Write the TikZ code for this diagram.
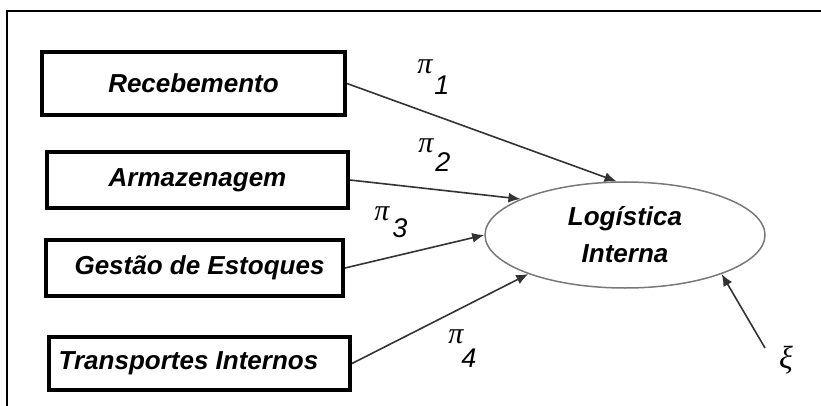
\documentclass[tikz,border=0pt]{standalone}
\usepackage{fontspec}
\setmainfont{Liberation Sans}
\newfontfamily\greekfont{Liberation Serif}
\definecolor{edgegray}{rgb}{0.2,0.2,0.2}
\definecolor{ovalgray}{rgb}{0.47,0.47,0.47}
\usetikzlibrary{arrows.meta}
\usetikzlibrary{shapes.geometric}
\usetikzlibrary{positioning}

\tikzset{
  factor/.style={draw, line width=4pt, inner sep=0pt, font=\bfseries\itshape\fontsize{26}{30}\selectfont},
  latent/.style={ellipse, draw=ovalgray, line width=1.5pt, inner sep=0pt, minimum width=280pt, minimum height=106pt, align=center, font=\bfseries\itshape\fontsize{26}{37}\selectfont},
  path/.style={draw=edgegray, line width=1.6pt, -{Latex[length=12pt,width=10pt]}},
  pisym/.style={inner sep=0pt, font=\greekfont\itshape\fontsize{30}{30}\selectfont},
  pidig/.style={inner sep=0pt, font=\itshape\fontsize{27}{27}\selectfont}
}

\begin{document}
\begin{tikzpicture}[x=1pt, y=-1pt]

\useasboundingbox (0,0) rectangle (821,406);
\draw[line width=1.8pt] (7,406) |- (821,11);

% indicadores
\node[factor, minimum width=303pt, minimum height=63pt] (rec) at (193.5,83.5) {Recebemento};
\node[factor, minimum width=301pt, minimum height=56pt] (arm) at (197.5,180) {Armazenagem};
\node[factor, minimum width=297pt, minimum height=56pt] (ges) at (194.5,268) {\hspace*{10pt}Gestão de Estoques};
\node[factor, minimum width=301pt, minimum height=53pt] (tra) at (199.5,363.5) {Transportes Internos\hspace*{22pt}};

% construto
\node[latent] (log) at (625,235) {Logística\\Interna};

% caminhos
\draw[path] (rec.east) -- (log.99);
\draw[path] (arm.east) -- (log.161);
\draw[path] (ges.east) -- (log.180);
\draw[path] (tra.east) -- (log.202);

% coeficientes
\node[pisym] (pi1) at (425,67) {π};
\node[pidig] (n1) at (442,85) {1};
\node[pisym] (pi2) at (426,146) {π};
\node[pidig] (n2) at (443,162) {2};
\node[pisym] (pi3) at (382,214) {π};
\node[pidig] (n3) at (400,228) {3};
\node[pisym] (pi4) at (456,337) {π};
\node[pidig] (n4) at (469,358) {4};

% erro
\coordinate (err) at (765,348);
\node[inner sep=0pt, font=\greekfont\itshape\fontsize{32}{32}\selectfont] (xi) at (786,360) {ξ};
\draw[path] (err) -- (log.338);

\end{tikzpicture}
\end{document}
